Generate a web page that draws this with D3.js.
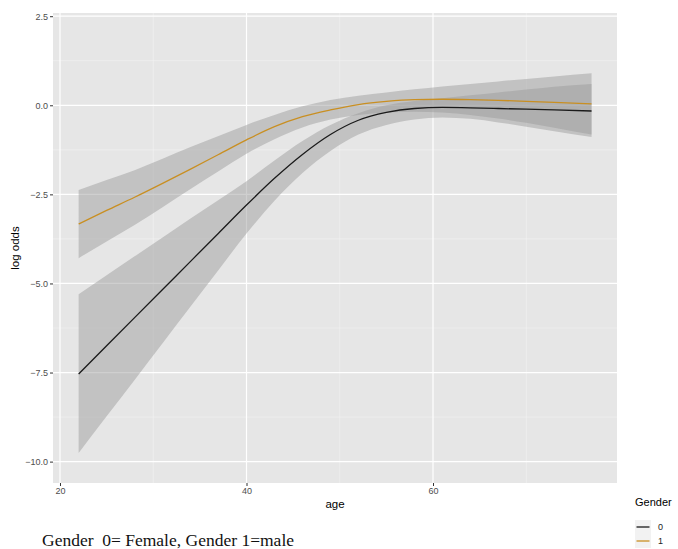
<!DOCTYPE html>
<html>
<head>
<meta charset="utf-8">
<script src="https://cdn.jsdelivr.net/npm/d3@7"></script>
<style>
  body { margin: 0; background: #fff; }
  text { font-family: "Liberation Sans", Arial, sans-serif; }
</style>
</head>
<body>
<div id="chart"></div>
<script>
// data (log odds by age, per gender)
var ages = [22, 25, 28, 31, 34, 37, 40, 43, 46, 49, 52, 55, 58, 61, 64, 67, 70, 73, 77];

var fit0   = [-7.54, -6.75, -5.96, -5.17, -4.38, -3.59, -2.80, -2.05, -1.38, -0.82, -0.42, -0.20, -0.09, -0.06, -0.07, -0.09, -0.11, -0.13, -0.16];
var upper0 = [-5.30, -4.77, -4.24, -3.71, -3.18, -2.66, -2.13, -1.55, -1.00, -0.55, -0.22, 0.00, 0.12, 0.20, 0.28, 0.36, 0.44, 0.52, 0.60];
var lower0 = [-9.76, -8.73, -7.71, -6.68, -5.65, -4.62, -3.60, -2.68, -1.90, -1.28, -0.82, -0.55, -0.40, -0.34, -0.38, -0.48, -0.60, -0.73, -0.89];

var fit1   = [-3.33, -2.95, -2.58, -2.19, -1.79, -1.38, -0.97, -0.60, -0.32, -0.13, 0.02, 0.11, 0.16, 0.17, 0.16, 0.14, 0.11, 0.08, 0.04];
var upper1 = [-2.38, -2.10, -1.82, -1.50, -1.17, -0.86, -0.55, -0.27, -0.03, 0.15, 0.27, 0.36, 0.45, 0.53, 0.60, 0.67, 0.74, 0.81, 0.90];
var lower1 = [-4.29, -3.82, -3.36, -2.86, -2.35, -1.85, -1.36, -0.95, -0.62, -0.40, -0.27, -0.20, -0.18, -0.20, -0.27, -0.37, -0.49, -0.63, -0.82];

var xMajor = [20, 40, 60];
var xMinor = [30, 50, 70];
var yMajor = [2.5, 0, -2.5, -5, -7.5, -10];
var yMinor = [1.25, -1.25, -3.75, -6.25, -8.75];

var genders = ["0", "1"];
var colors = ["#1a1a1a", "#c98f22"];

var W = 678, H = 549;
var pLeft = 53, pRight = 617, pTop = 13, pBottom = 483;

var svg = d3.select("#chart").append("svg")
    .attr("width", W)
    .attr("height", H);

var x = d3.scaleLinear().domain([19.25, 79.73]).range([pLeft, pRight]);
var y = d3.scaleLinear().domain([-10.6, 2.59]).range([pBottom, pTop]);

// panel background
svg.append("rect")
    .attr("x", pLeft).attr("y", pTop)
    .attr("width", pRight - pLeft).attr("height", pBottom - pTop)
    .attr("fill", "#e6e6e6");

// grid lines
var grid = svg.append("g");
grid.selectAll(".ymin").data(yMinor).enter().append("line")
    .attr("x1", pLeft).attr("x2", pRight)
    .attr("y1", function(d) { return y(d); }).attr("y2", function(d) { return y(d); })
    .attr("stroke", "#f3f3f3").attr("stroke-width", 0.6);
grid.selectAll(".xmin").data(xMinor).enter().append("line")
    .attr("y1", pTop).attr("y2", pBottom)
    .attr("x1", function(d) { return x(d); }).attr("x2", function(d) { return x(d); })
    .attr("stroke", "#f3f3f3").attr("stroke-width", 0.6);
grid.selectAll(".ymaj").data(yMajor).enter().append("line")
    .attr("x1", pLeft).attr("x2", pRight)
    .attr("y1", function(d) { return y(d); }).attr("y2", function(d) { return y(d); })
    .attr("stroke", "#fff").attr("stroke-width", 1.2);
grid.selectAll(".xmaj").data(xMajor).enter().append("line")
    .attr("y1", pTop).attr("y2", pBottom)
    .attr("x1", function(d) { return x(d); }).attr("x2", function(d) { return x(d); })
    .attr("stroke", "#fff").attr("stroke-width", 1.2);

// build rows per gender
var series = [
    { key: "0", fit: fit0, lo: lower0, hi: upper0 },
    { key: "1", fit: fit1, lo: lower1, hi: upper1 }
];

var area = d3.area()
    .curve(d3.curveMonotoneX)
    .x(function(d) { return x(d.age); })
    .y0(function(d) { return y(d.lo); })
    .y1(function(d) { return y(d.hi); });

var line = d3.line()
    .curve(d3.curveMonotoneX)
    .x(function(d) { return x(d.age); })
    .y(function(d) { return y(d.fit); });

function rows(s) {
    return ages.map(function(a, i) { return { age: a, fit: s.fit[i], lo: s.lo[i], hi: s.hi[i] }; });
}

// ribbons
series.forEach(function(s) {
    svg.append("path")
        .datum(rows(s))
        .attr("fill", "#999999")
        .attr("fill-opacity", 0.47)
        .attr("d", area);
});

// fitted lines
series.forEach(function(s, i) {
    svg.append("path")
        .datum(rows(s))
        .attr("fill", "none")
        .attr("stroke", colors[i])
        .attr("stroke-width", 1.3)
        .attr("d", line);
});

// axes
var xAxis = svg.append("g")
    .attr("transform", "translate(0," + pBottom + ")")
    .call(d3.axisBottom(x).tickValues(xMajor).tickSize(3).tickPadding(2));
var yAxis = svg.append("g")
    .attr("transform", "translate(" + pLeft + ",0)")
    .call(d3.axisLeft(y).tickValues(yMajor).tickSize(3).tickPadding(2)
        .tickFormat(d3.format(".1f")));
[xAxis, yAxis].forEach(function(a) {
    a.select(".domain").remove();
    a.selectAll(".tick line").attr("stroke", "#333").attr("stroke-width", 1);
    a.selectAll(".tick text")
        .attr("fill", "#4d4d4d")
        .style("font-size", "9px")
        .style("font-family", "Liberation Sans, Arial, sans-serif");
});

// axis titles
svg.append("text")
    .attr("x", (pLeft + pRight) / 2).attr("y", 508)
    .attr("text-anchor", "middle")
    .style("font-size", "11.5px")
    .text("age");
svg.append("text")
    .attr("transform", "translate(19," + ((pTop + pBottom) / 2) + ") rotate(-90)")
    .attr("text-anchor", "middle")
    .style("font-size", "11.5px")
    .text("log odds");

// legend
var legend = svg.append("g").attr("transform", "translate(634,0)");
legend.append("text")
    .attr("x", 1).attr("y", 506)
    .style("font-size", "11px")
    .text("Gender");
genders.forEach(function(g, i) {
    var cy = 527 + i * 14;
    legend.append("rect")
        .attr("x", 1).attr("y", cy - 7)
        .attr("width", 16).attr("height", 14)
        .attr("fill", "#f2f2f2");
    legend.append("line")
        .attr("x1", 2.5).attr("x2", 15.5)
        .attr("y1", cy).attr("y2", cy)
        .attr("stroke", colors[i]).attr("stroke-width", 1.3);
    legend.append("text")
        .attr("x", 24).attr("y", cy + 3)
        .attr("fill", "#222")
        .style("font-size", "9px")
        .text(g);
});

// caption under the chart
svg.append("text")
    .attr("x", 42).attr("y", 546)
    .style("font-family", "Liberation Serif, Times New Roman, serif")
    .style("font-size", "17.5px")
    .style("white-space", "pre")
    .attr("fill", "#111")
    .text("Gender  0= Female, Gender 1=male");
</script>
</body>
</html>
